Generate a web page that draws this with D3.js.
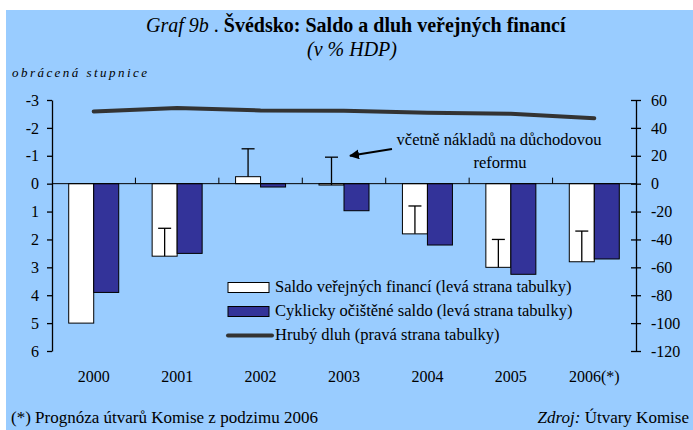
<!DOCTYPE html>
<html>
<head>
<meta charset="utf-8">
<script src="https://cdn.jsdelivr.net/npm/d3@7"></script>
<style>
  body { margin: 0; background: #ffffff; }
  text { font-family: "Liberation Serif", "Times New Roman", serif; fill: #000; }
</style>
</head>
<body>
<svg id="SVG_CONTAINER" width="693" height="430"></svg>
<script>
// data
const years   = ["2000", "2001", "2002", "2003", "2004", "2005", "2006(*)"];
const saldo   = [5.0, 2.6, -0.25, 0.05, 1.8, 3.0, 2.8];      // Saldo veřejných financí (inverted left axis)
const cyklic  = [3.9, 2.5, 0.12, 0.97, 2.2, 3.25, 2.7];     // Cyklicky očištěné saldo
const vcetne  = [null, 1.6, -1.25, -0.95, 0.8, 2.0, 1.7];   // including pension reform costs
const dluh    = [51.8, 54.2, 52.5, 52.3, 50.9, 50.2, 47.0]; // Hrubý dluh (right axis)
const leftTicks  = [-3, -2, -1, 0, 1, 2, 3, 4, 5, 6];
const rightTicks = [60, 40, 20, 0, -20, -40, -60, -80, -100, -120];

const width = 693, height = 430;
const PLOT = { LEFT: 52, RIGHT: 636, TOP: 100, BOTTOM: 351 };
const BAR_W = 25;

var svg = d3.select("#SVG_CONTAINER");

// background panel
svg.append("rect")
    .attr("x", 6).attr("y", 10)
    .attr("width", width - 6).attr("height", height - 10)
    .attr("fill", "#99CCFF");

// scales
var xScale = d3.scaleBand()
    .domain(years)
    .range([PLOT.LEFT, PLOT.RIGHT]);

var yLeft = d3.scaleLinear()
    .domain([-3, 6])
    .range([PLOT.TOP, PLOT.BOTTOM]);

var yRight = d3.scaleLinear()
    .domain([60, -120])
    .range([PLOT.TOP, PLOT.BOTTOM]);

var cx = d => xScale(d) + xScale.bandwidth() / 2;

// title
var title = svg.append("text")
    .attr("x", 146).attr("y", 32)
    .attr("font-size", "20px");
title.append("tspan").attr("font-style", "italic").text("Graf 9b");
title.append("tspan").text(" . ");
title.append("tspan").attr("font-weight", "bold").text("Švédsko: Saldo a dluh veřejných financí");

svg.append("text")
    .attr("x", 352).attr("y", 56)
    .attr("text-anchor", "middle")
    .attr("font-size", "20px")
    .attr("font-style", "italic")
    .text("(v % HDP)");

svg.append("text")
    .attr("x", 12).attr("y", 77)
    .attr("font-size", "13px")
    .attr("font-style", "italic")
    .attr("textLength", 135)
    .attr("lengthAdjust", "spacing")
    .text("obrácená stupnice");

var chart = svg.append("g").attr("class", "chart");

// white bars (saldo)
chart.selectAll("rect.saldo")
    .data(saldo)
    .enter()
    .append("rect")
    .attr("class", "saldo")
    .attr("x", (d, i) => cx(years[i]) - BAR_W)
    .attr("y", d => Math.min(yLeft(0), yLeft(d)))
    .attr("width", BAR_W)
    .attr("height", d => Math.abs(yLeft(d) - yLeft(0)))
    .attr("fill", "#ffffff")
    .attr("stroke", "#000")
    .attr("stroke-width", 1);

// blue bars (cyclically adjusted)
chart.selectAll("rect.cyk")
    .data(cyklic)
    .enter()
    .append("rect")
    .attr("class", "cyk")
    .attr("x", (d, i) => cx(years[i]))
    .attr("y", d => Math.min(yLeft(0), yLeft(d)))
    .attr("width", BAR_W)
    .attr("height", d => Math.abs(yLeft(d) - yLeft(0)))
    .attr("fill", "#333399")
    .attr("stroke", "#000")
    .attr("stroke-width", 1);

// error-bar style marks: including pension reform
var errs = d3.range(years.length).filter(i => vcetne[i] !== null);
var eb = chart.selectAll("g.err")
    .data(errs)
    .enter()
    .append("g")
    .attr("class", "err")
    .attr("stroke", "#000")
    .attr("stroke-width", 1.3);
eb.append("line")
    .attr("x1", i => cx(years[i]) - BAR_W / 2)
    .attr("x2", i => cx(years[i]) - BAR_W / 2)
    .attr("y1", i => yLeft(saldo[i]))
    .attr("y2", i => yLeft(vcetne[i]));
eb.append("line")
    .attr("x1", i => cx(years[i]) - BAR_W / 2 - 6.5)
    .attr("x2", i => cx(years[i]) - BAR_W / 2 + 6.5)
    .attr("y1", i => yLeft(vcetne[i]))
    .attr("y2", i => yLeft(vcetne[i]));

// x axis at zero with upward ticks at category boundaries
chart.append("line")
    .attr("x1", PLOT.LEFT).attr("x2", PLOT.RIGHT)
    .attr("y1", yLeft(0)).attr("y2", yLeft(0))
    .attr("stroke", "#000").attr("stroke-width", 1);
chart.selectAll("line.xtick")
    .data(years.slice(1))
    .enter()
    .append("line")
    .attr("class", "xtick")
    .attr("x1", d => xScale(d)).attr("x2", d => xScale(d))
    .attr("y1", yLeft(0)).attr("y2", yLeft(0) - 6)
    .attr("stroke", "#000").attr("stroke-width", 1);

// category labels
chart.selectAll("text.year")
    .data(years)
    .enter()
    .append("text")
    .attr("class", "year")
    .attr("x", d => cx(d))
    .attr("y", 382)
    .attr("text-anchor", "middle")
    .attr("font-size", "16px")
    .text(d => d);

// debt line
var line = d3.line()
    .x((d, i) => cx(years[i]))
    .y(d => yRight(d));
chart.append("path")
    .datum(dluh)
    .attr("d", line)
    .attr("fill", "none")
    .attr("stroke", "#333333")
    .attr("stroke-width", 4)
    .attr("stroke-linecap", "round");

// left axis
var yAxisL = d3.axisLeft(yLeft)
    .tickValues(leftTicks)
    .tickSize(5)
    .tickSizeOuter(0)
    .tickPadding(8)
    .tickFormat(d => String(d));
var gL = svg.append("g")
    .attr("transform", "translate(" + PLOT.LEFT + ",0)")
    .call(yAxisL);
gL.selectAll("text")
    .style("font-family", "'Liberation Serif', serif")
    .style("font-size", "16px")
    .attr("fill", "#000");

// right axis, ticks crossing the line
var yAxisR = d3.axisRight(yRight)
    .tickValues(rightTicks)
    .tickSize(5)
    .tickSizeOuter(0)
    .tickPadding(10)
    .tickFormat(d => String(d));
var gR = svg.append("g")
    .attr("transform", "translate(" + PLOT.RIGHT + ",0)")
    .call(yAxisR);
gR.selectAll(".tick line").attr("x1", -5).attr("x2", 5);
gR.selectAll("text")
    .style("font-family", "'Liberation Serif', serif")
    .style("font-size", "16px")
    .attr("fill", "#000");
svg.selectAll(".domain, .tick line").attr("stroke", "#000").attr("stroke-width", 1.3);

// annotation with arrow
svg.append("defs").append("marker")
    .attr("id", "arrow")
    .attr("viewBox", "0 0 10 10")
    .attr("refX", 9).attr("refY", 5)
    .attr("markerWidth", 5).attr("markerHeight", 5)
    .attr("orient", "auto")
    .append("path")
    .attr("d", "M0,0L10,5L0,10z")
    .attr("fill", "#000");
svg.append("line")
    .attr("x1", 392).attr("y1", 149)
    .attr("x2", cx("2003") + 6).attr("y2", yLeft(-1.0))
    .attr("stroke", "#000").attr("stroke-width", 2)
    .attr("marker-end", "url(#arrow)");
svg.append("text")
    .attr("x", 499).attr("y", 145)
    .attr("text-anchor", "middle")
    .attr("font-size", "16.5px")
    .text("včetně nákladů na důchodovou");
svg.append("text")
    .attr("x", 500).attr("y", 168)
    .attr("text-anchor", "middle")
    .attr("font-size", "16.5px")
    .text("reformu");

// legend
var legend = svg.append("g").attr("class", "legend");
var legItems = [
    { label: "Saldo veřejných financí (levá strana tabulky)", type: "bar", fill: "#ffffff" },
    { label: "Cyklicky očištěné saldo (levá strana tabulky)", type: "bar", fill: "#333399" },
    { label: "Hrubý dluh (pravá strana tabulky)", type: "line" }
];
legItems.forEach(function (item, i) {
    var y = 287 + i * 24;
    if (item.type === "bar") {
        legend.append("rect")
            .attr("x", 228).attr("y", y - 4.5)
            .attr("width", 41).attr("height", 10)
            .attr("fill", item.fill)
            .attr("stroke", "#000").attr("stroke-width", 1);
    } else {
        legend.append("line")
            .attr("x1", 228).attr("x2", 272)
            .attr("y1", y + 0.5).attr("y2", y + 0.5)
            .attr("stroke", "#333333").attr("stroke-width", 4)
            .attr("stroke-linecap", "round");
    }
    legend.append("text")
        .attr("x", 275).attr("y", y + 5)
        .attr("font-size", "16.5px")
        .text(item.label);
});

// footer
svg.append("text")
    .attr("x", 11).attr("y", 423)
    .attr("font-size", "17px")
    .text("(*) Prognóza útvarů Komise z podzimu 2006");
var src = svg.append("text")
    .attr("x", 689).attr("y", 423)
    .attr("text-anchor", "end")
    .attr("font-size", "17px");
src.append("tspan").attr("font-style", "italic").text("Zdroj:");
src.append("tspan").text(" Útvary Komise");
</script>
</body>
</html>
